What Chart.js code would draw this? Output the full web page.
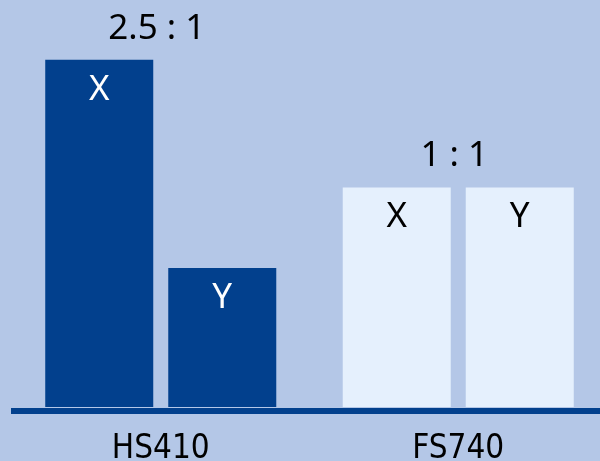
<!DOCTYPE html>
<html>
<head>
<meta charset="utf-8">
<script src="https://cdn.jsdelivr.net/npm/chart.js@4"></script>
<style>
  html, body { margin: 0; padding: 0; background: #b4c7e7; overflow: hidden; }
  #caixa { width: 600px; height: 461px; overflow: hidden; }
  #grafico { display: block; }
</style>
</head>
<body>
<div id="caixa">
  <canvas id="grafico" width="607" height="461"></canvas>
</div>
<script>
const categorias = ['HS410', 'FS740'];
const valoresX = [2.5, 1.58];
const valoresY = [1.0, 1.58];
const razoes = ['2.5 : 1', '1 : 1'];
const nomesSeries = ['X', 'Y'];

const azulEscuro = '#02408d';
const azulClaro = '#e5f0fd';
const fundo = '#b4c7e7';

const rotulosPlugin = {
  id: 'rotulos',
  beforeDraw(chart) {
    const c = chart.ctx;
    c.save();
    c.fillStyle = fundo;
    c.fillRect(0, 0, chart.width, chart.height);
    c.restore();
  },
  afterDatasetsDraw(chart) {
    const c = chart.ctx;
    const area = chart.chartArea;
    c.save();
    // linha do eixo
    c.fillStyle = azulEscuro;
    c.fillRect(11, area.bottom + 1, chart.width - 11, 6);

    // nomes dentro das barras
    c.textAlign = 'center';
    c.textBaseline = 'middle';
    c.font = '35px "Noto Sans", sans-serif';
    chart.data.datasets.forEach((ds, i) => {
      const meta = chart.getDatasetMeta(i);
      meta.data.forEach((bar, j) => {
        c.fillStyle = j === 0 ? '#ffffff' : '#000000';
        c.fillText(nomesSeries[i], bar.x, bar.y + 30);
      });
    });

    // razoes acima de cada grupo
    c.fillStyle = '#000000';
    c.font = '35px "Noto Sans", sans-serif';
    categorias.forEach((cat, j) => {
      const x = chart.scales.x.getPixelForValue(j);
      let topo = area.bottom;
      chart.data.datasets.forEach((ds, i) => {
        topo = Math.min(topo, chart.getDatasetMeta(i).data[j].y);
      });
      c.fillText(razoes[j], x - 4, topo - 31);
    });
    c.restore();
  }
};

const ctx = document.getElementById('grafico').getContext('2d');
const grafico = new Chart(ctx, {
  type: 'bar',
  data: {
    labels: categorias,
    datasets: [
      {
        label: nomesSeries[0],
        data: valoresX,
        backgroundColor: [azulEscuro, azulClaro],
        borderWidth: 0
      },
      {
        label: nomesSeries[1],
        data: valoresY,
        backgroundColor: [azulEscuro, azulClaro],
        borderWidth: 0
      }
    ]
  },
  options: {
    responsive: false,
    animation: false,
    devicePixelRatio: 1,
    categoryPercentage: 0.827,
    barPercentage: 0.878,
    layout: { padding: { left: 12, right: 0, top: 0, bottom: 0 } },
    plugins: {
      legend: { display: false },
      tooltip: { enabled: false }
    },
    scales: {
      x: {
        grid: { display: false },
        border: { display: false },
        ticks: {
          color: '#000000',
          padding: 15,
          font: { family: '"Liberation Sans Narrow", "DejaVu Sans Condensed", sans-serif', size: 33 }
        },
        afterFit(scale) { scale.height = 54; }
      },
      y: {
        display: false,
        min: 0,
        max: 2.93
      }
    }
  },
  plugins: [rotulosPlugin]
});
</script>
</body>
</html>
